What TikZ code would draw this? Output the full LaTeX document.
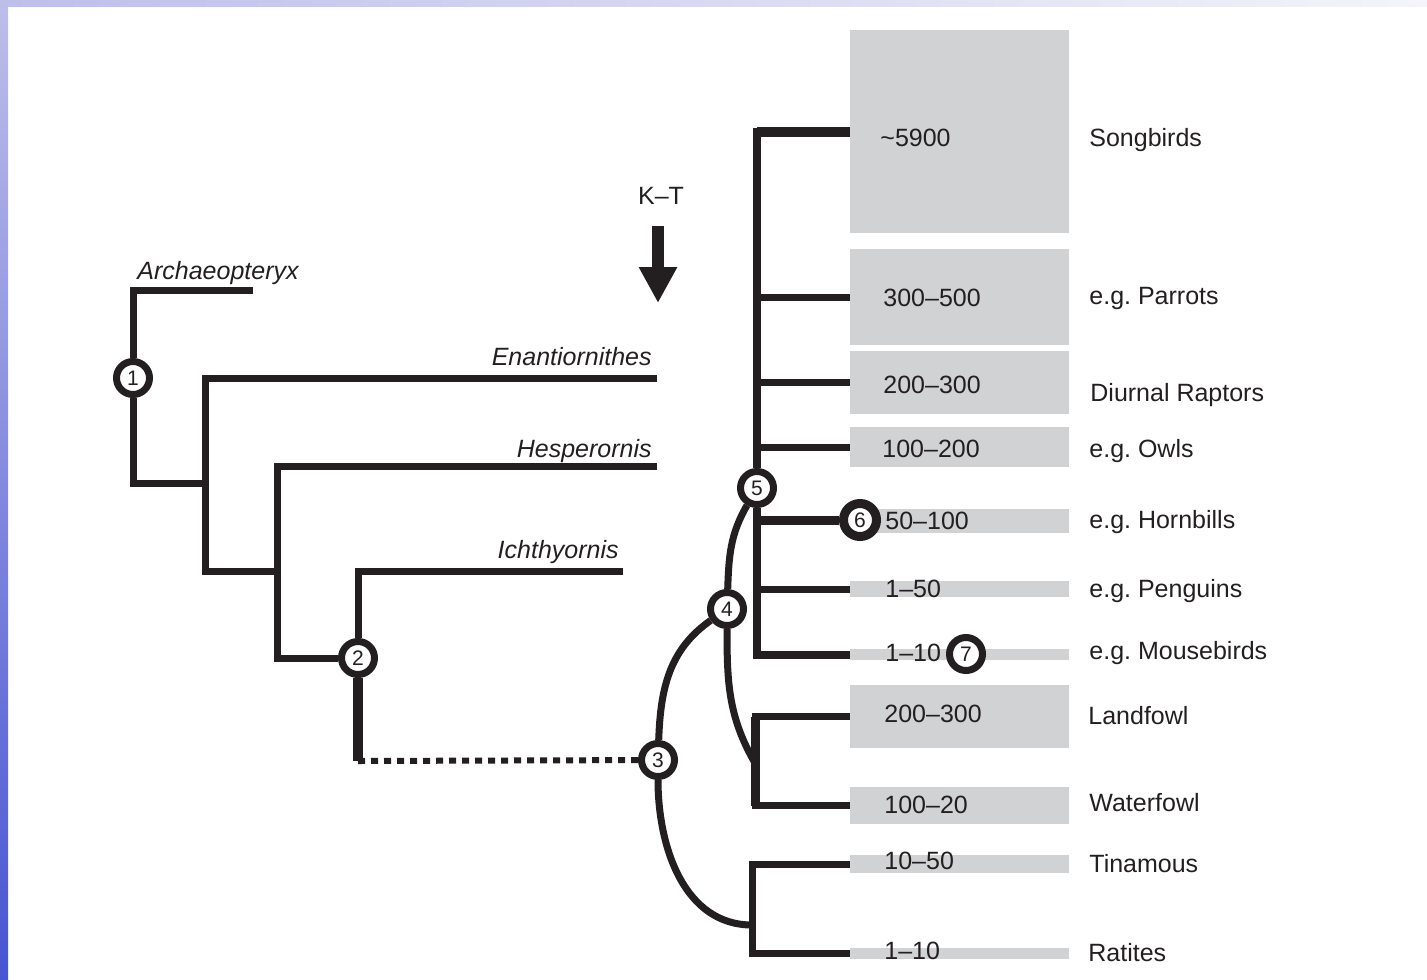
\documentclass[tikz,border=0pt]{standalone}
\usepackage{fontspec}
\setmainfont{Liberation Sans}
\usetikzlibrary{arrows.meta}
\definecolor{ink}{RGB}{35,31,32}
\definecolor{boxgray}{RGB}{209,210,212}
\definecolor{barhi}{RGB}{190,190,234}
\definecolor{barlo}{RGB}{72,84,210}
\definecolor{barfade}{RGB}{244,244,250}
\frenchspacing

\begin{document}
\begin{tikzpicture}[x=0.5pt, y=-0.5pt, line join=miter,
  every node/.style={inner sep=0pt, text=ink, font=\fontsize{12.5}{15}\selectfont},
  branch/.style={draw=ink, line width=3.5pt},
  clade/.style={circle, draw=ink, fill=white, line width=3.5pt, minimum size=16.5pt, font=\fontsize{10.5}{12}\selectfont},
  box/.style={fill=boxgray, anchor=north west, minimum width=109.5pt},
  taxon/.style={font=\fontsize{12.5}{15}\selectfont\itshape}]
	\useasboundingbox (0,0) rectangle (1427,979);
	%Frame
	\shade[top color=barhi, bottom color=barlo] (0,0) rectangle (8,979);
	\shade[left color=barhi, right color=barfade] (8,0) rectangle (1427,7);
	%Boxes
	\node[box, minimum height=101.5pt] (b1) at (850,30) {};
	\node[box, minimum height=48pt] (b2) at (850,249) {};
	\node[box, minimum height=31.5pt] (b3) at (850,351) {};
	\node[box, minimum height=20pt] (b4) at (850,427) {};
	\node[box, minimum height=12pt] (b5) at (850,509) {};
	\node[box, minimum height=8pt] (b6) at (850,581) {};
	\node[box, minimum height=5.5pt] (b7) at (850,649) {};
	\node[box, minimum height=31.5pt] (b8) at (850,685) {};
	\node[box, minimum height=18.5pt] (b9) at (850,787) {};
	\node[box, minimum height=9pt] (b10) at (850,855) {};
	\node[box, minimum height=5.5pt] (b11) at (850,948) {};
	%Species counts
	\node[anchor=base west] (c1) at (880,146) {\textasciitilde5900};
	\node[anchor=base west] (c2) at (883,306) {300--500};
	\node[anchor=base west] (c3) at (883,393) {200--300};
	\node[anchor=base west] (c4) at (882,457) {100--200};
	\node[anchor=base west] (c5) at (885,529) {50--100};
	\node[anchor=base west] (c6) at (885,597) {1--50};
	\node[anchor=base west] (c7) at (885,661) {1--10};
	\node[anchor=base west] (c8) at (884,722) {200--300};
	\node[anchor=base west] (c9) at (884,813) {100--20};
	\node[anchor=base west] (c10) at (884,869) {10--50};
	\node[anchor=base west] (c11) at (884,959) {1--10};
	%Groups
	\node[anchor=base west] (g1) at (1089,146) {Songbirds};
	\node[anchor=base west] (g2) at (1089,304) {e.g. Parrots};
	\node[anchor=base west] (g3) at (1090,401) {Diurnal Raptors};
	\node[anchor=base west] (g4) at (1089,457) {e.g. Owls};
	\node[anchor=base west] (g5) at (1089,528) {e.g. Hornbills};
	\node[anchor=base west] (g6) at (1089,597) {e.g. Penguins};
	\node[anchor=base west] (g7) at (1089,659) {e.g. Mousebirds};
	\node[anchor=base west] (g8) at (1088,724) {Landfowl};
	\node[anchor=base west] (g9) at (1089,811) {Waterfowl};
	\node[anchor=base west] (g10) at (1089,872) {Tinamous};
	\node[anchor=base west] (g11) at (1088,961) {Ratites};
	%Stem birds
	\node[taxon, anchor=base west] (archlab) at (137,279) {Archaeopteryx};
	\node[taxon, anchor=base east] (enanlab) at (652,365) {Enantiornithes};
	\node[taxon, anchor=base east] (hesplab) at (652,457) {Hesperornis};
	\node[taxon, anchor=base east] (ichlab) at (619,558) {Ichthyornis};
	%K-T
	\node (kt) at (661,196) {K--T};
	\coordinate (kttail) at (658,226);
	\coordinate (kthead) at (658,303);
	\draw[ink, line width=6pt, -{Triangle[width=18pt,length=18pt]}] (kttail) -- (kthead);
	%Clades
	\node[clade] (n1) at (133,378) {1};
	\node[clade] (n2) at (358,658) {2};
	\node[clade] (n3) at (658,760) {3};
	\node[clade] (n4) at (727,609) {4};
	\node[clade] (n5) at (757,488) {5};
	\node[clade, line width=4.5pt] (n6) at (860,520) {6};
	\node[clade] (n7) at (966,654) {7};
	%Stem tree
	\coordinate (archtip) at (253,290);
	\coordinate (enantip) at (657,378);
	\coordinate (hesptip) at (657,466);
	\coordinate (ichtip) at (623,571);
	\coordinate (j1) at (205,483);
	\coordinate (j2) at (277,571);
	\coordinate (j3) at (358,761);
	\draw[branch] (archtip) -| (n1);
	\draw[branch] (n1) |- (j1);
	\draw[branch] (enantip) -| (j1) |- (j2);
	\draw[branch] (hesptip) -| (j2) |- (n2);
	\draw[branch] (ichtip) -| (n2);
	\draw[branch, line width=5pt] (n2) -- (j3);
	\draw[draw=ink, line width=3pt, dash pattern=on 3.5pt off 3pt] (j3) -- (n3);
	%Crown
	\coordinate (j4) at (755,763);
	\coordinate (j5) at (752,925);
	\draw[branch] (n3) to[out=88, in=215] (n4);
	\draw[branch] (n3) to[out=-90, in=180] (j5);
	\draw[branch] (n4) to[out=88, in=240] (n5);
	\draw[branch] (n4) to[out=-90, in=120] (j4);
	\draw[branch, line width=4pt] (b1.west) -| (n5);
	\draw[branch, line width=5pt] (b1.west) -- (n5 |- b1.west);
	\draw[branch, line width=4pt] (n5) |- (b7.west);
	\draw[branch] (n5 |- b2.west) -- (b2.west);
	\draw[branch] (n5 |- b3.west) -- (b3.west);
	\draw[branch] (n5 |- b4.west) -- (b4.west);
	\draw[branch, line width=4.5pt] (n5 |- n6) -- (n6);
	\draw[branch] (n5 |- b6.west) -- (b6.west);
	\draw[branch] (b8.west) -| (j4) |- (b9.west);
	\draw[branch, line width=4.5pt] (j4 |- b8.west) -- (j4 |- b9.west);
	\draw[branch] (b10.west) -| (j5) |- (b11.west);
\end{tikzpicture}
\end{document}
